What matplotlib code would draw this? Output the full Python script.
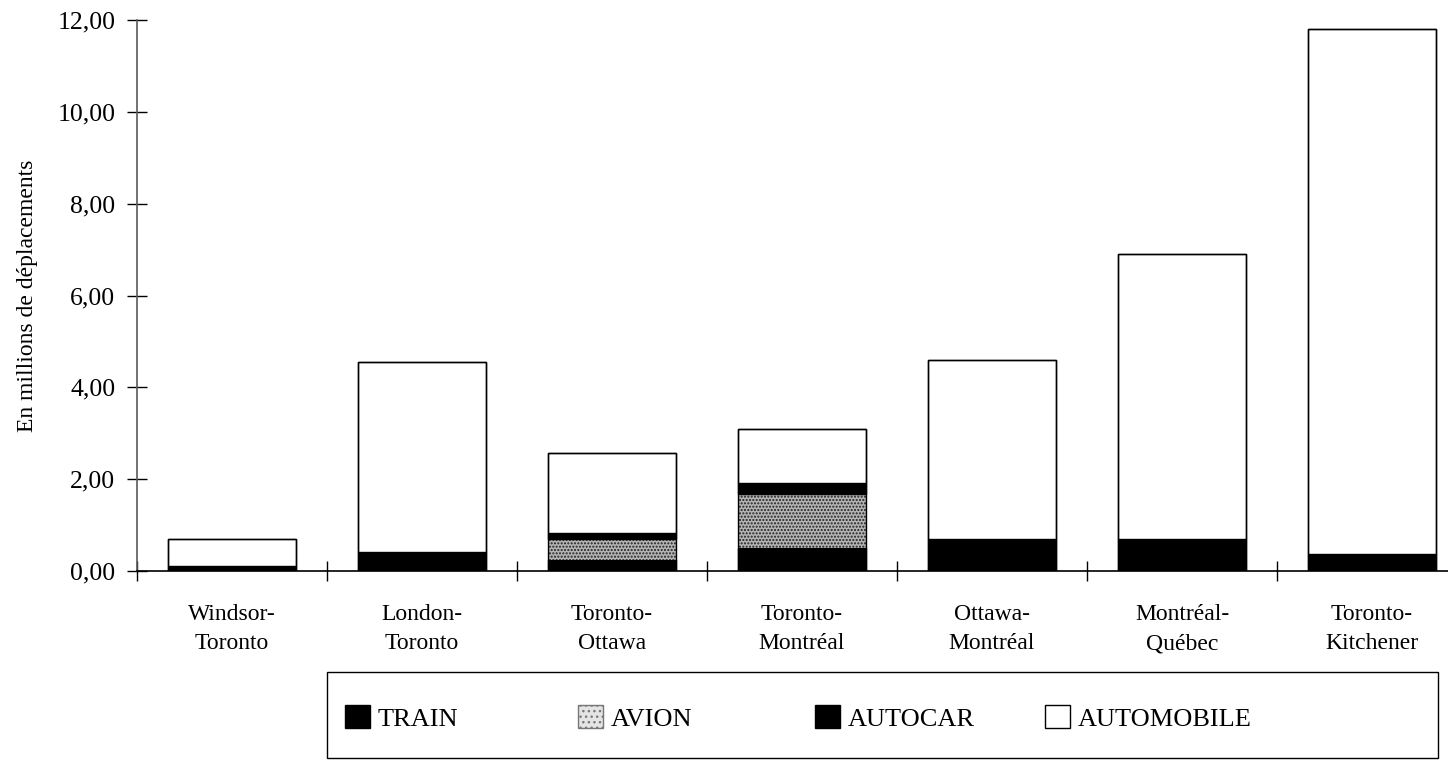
import matplotlib
matplotlib.use("Agg")
import matplotlib.pyplot as plt
from matplotlib.patches import Patch, Rectangle
from matplotlib.ticker import FuncFormatter, FixedLocator
import numpy as np

# Corridors (millions of trips by mode)
categories = ["Windsor-\nToronto", "London-\nToronto", "Toronto-\nOttawa",
              "Toronto-\nMontréal", "Ottawa-\nMontréal", "Montréal-\nQuébec",
              "Toronto-\nKitchener"]
train = [0.03, 0.12, 0.25, 0.51, 0.25, 0.20, 0.10]
avion = [0.00, 0.00, 0.44, 1.16, 0.00, 0.00, 0.00]
autocar = [0.07, 0.30, 0.13, 0.24, 0.45, 0.50, 0.28]
automobile = [0.60, 4.13, 1.74, 1.19, 3.90, 6.20, 11.42]
mode_labels = ["TRAIN", "AVION", "AUTOCAR", "AUTOMOBILE"]
y_ticks = [0, 2, 4, 6, 8, 10, 12]

plt.rcParams["font.family"] = ["Liberation Serif", "DejaVu Serif"]
plt.rcParams["hatch.linewidth"] = 1.0

W, H = 1448, 760
fig = plt.figure(figsize=(W / 100, H / 100), dpi=100)
ax = fig.add_axes([137 / W, 1 - 571 / H, (1467 - 137) / W, (571 - 20) / H])

x = np.arange(len(categories))
w = 0.67
b1 = np.array(train)
b2 = b1 + np.array(avion)
b3 = b2 + np.array(autocar)

ax.bar(x, train, w, color="black", edgecolor="black", linewidth=1)
ax.bar(x, avion, w, bottom=b1, color="#b4b4b4", edgecolor="#202020",
       linewidth=0, hatch=".....")
ax.bar(x, autocar, w, bottom=b2, color="black", edgecolor="black", linewidth=1)
ax.bar(x, automobile, w, bottom=b3, color="white", edgecolor="black", linewidth=1)
# outline around each full stack
ax.bar(x, b3 + np.array(automobile), w, fill=False, edgecolor="black", linewidth=1)

ax.set_xlim(-0.5, len(categories) - 0.5)
ax.set_ylim(0, 12)
ax.yaxis.set_major_locator(FixedLocator(y_ticks))
ax.yaxis.set_major_formatter(FuncFormatter(lambda v, p: f"{v:.2f}".replace(".", ",")))
ax.tick_params(axis="y", direction="inout", length=15, width=1, labelsize=18.5, pad=8)

ax.set_xticks(np.arange(len(categories) + 1) - 0.5)
ax.set_xticklabels([])
ax.set_xticks(x, minor=True)
ax.set_xticklabels(categories, minor=True, fontsize=17, linespacing=1.5)
ax.tick_params(axis="x", which="major", direction="inout", length=15, width=1)
ax.tick_params(axis="x", which="minor", length=0, pad=24)

for s in ("top", "right"):
    ax.spines[s].set_visible(False)
ax.spines["left"].set_color("#5a5a5a")
ax.spines["left"].set_linewidth(1.2)
ax.spines["bottom"].set_linewidth(1.2)

ax.set_ylabel("En millions de déplacements", fontsize=17, labelpad=14)

# legend: boxed panel with four evenly placed entries
fig.add_artist(Rectangle((327 / W, 1 - 758 / H), (1438 - 327) / W, (758 - 672) / H,
                         transform=fig.transFigure, fill=False, edgecolor="black",
                         linewidth=1))
handles = [
    Patch(facecolor="black", edgecolor="black"),
    Patch(facecolor="#e4e4e4", edgecolor="#777777", hatch="..."),
    Patch(facecolor="black", edgecolor="black"),
    Patch(facecolor="white", edgecolor="black"),
]
entry_x = [345, 578, 815, 1045]
for h, lab, ex in zip(handles, mode_labels, entry_x):
    fig.legend([h], [lab], loc="center left", bbox_to_anchor=(ex / W, 1 - 718 / H),
               frameon=False, fontsize=19, borderpad=0, borderaxespad=0,
               handlelength=0.95, handleheight=0.95, handletextpad=0.3)

fig.savefig("out.png", dpi=100)
